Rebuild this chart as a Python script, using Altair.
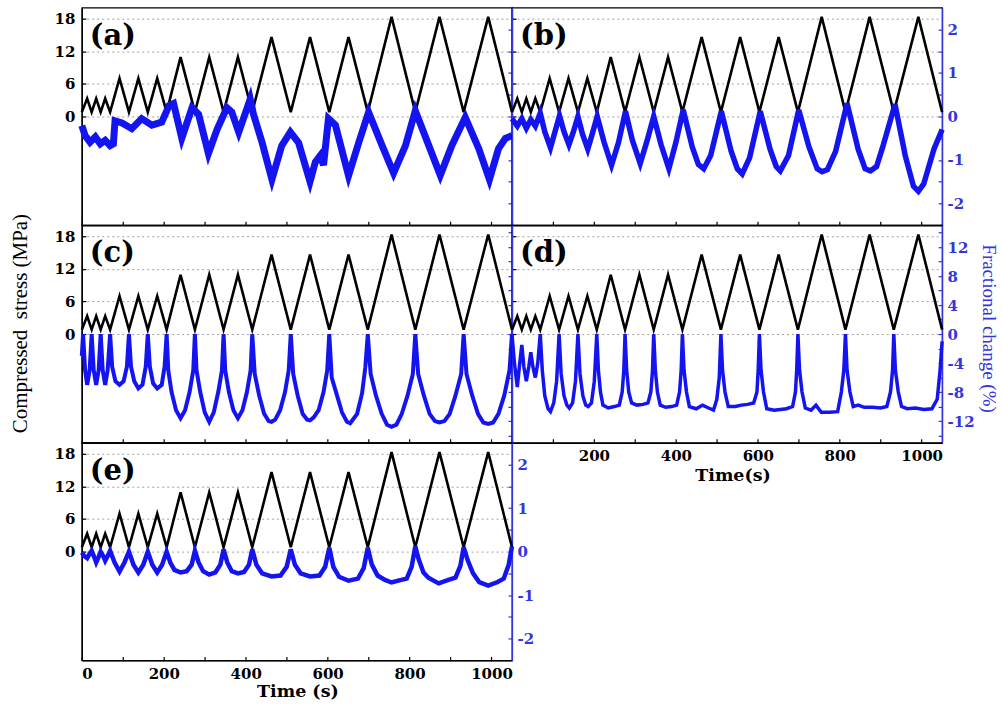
import altair as alt
import pandas as pd

# ---------------- data ----------------
stress_t = [0, 13, 24, 35, 46, 57, 69, 92, 115, 138, 161, 184, 207, 241, 276, 311,
            346, 381, 416, 463, 510, 557, 604, 651, 698, 756, 814, 873, 932, 992, 1050]
stress_v = [0.8, 3.3, 0.8, 3.3, 0.8, 3.3, 0.8, 7.0, 0.8, 7.0, 0.8, 7.0, 0.8, 10.9, 0.8, 10.9,
            0.8, 10.9, 0.8, 14.6, 0.8, 14.6, 0.8, 14.6, 0.8, 18.3, 0.8, 18.3, 0.8, 18.3, 0.8]

a_t = [0, 8, 20, 33, 45, 57, 69, 77, 81, 98, 122, 146, 171, 195, 213, 224, 244, 269, 285,
       309, 330, 354, 366, 383, 400, 411, 419, 440, 464, 488, 509, 529, 557, 570, 582, 590,
       602, 619, 651, 676, 700, 733, 761, 790, 814, 847, 875, 903, 936, 969, 995, 1017, 1034, 1050]
a_v = [-0.21, -0.44, -0.59, -0.47, -0.63, -0.55, -0.67, -0.63, -0.1, -0.15, -0.28, -0.05, -0.2,
       -0.13, 0.25, 0.3, -0.5, 0.2, 0.05, -0.85, -0.3, 0.2, 0.1, -0.36, 0.1, 0.4, 0.05, -0.6,
       -1.45, -0.67, -0.36, -0.6, -1.5, -1.05, -0.9, -1.12, -0.05, -0.2, -1.36, -0.6, 0.1,
       -0.67, -1.3, -0.67, 0.13, -0.67, -1.35, -0.67, -0.02, -0.74, -1.45, -0.74, -0.5, -0.44]

b_t = [0, 13, 24, 35, 46, 57, 69,
       80, 94, 105, 116, 127, 139, 150, 161, 172, 185, 196, 208,
       225, 243, 260, 277, 294, 313, 330, 346, 364, 383, 400, 418,
       440, 455, 468, 485, 511, 535, 550, 562, 580, 606, 630, 645, 655, 675, 700,
       725, 745, 757, 770, 790, 818, 845, 862, 875, 890, 905, 935, 960, 980, 992, 1005, 1030, 1050]
b_v = [-0.05, -0.22, -0.05, -0.27, -0.07, -0.22, 0.08,
       -0.35, -0.72, -0.35, 0.02, -0.35, -0.65, -0.35, 0.0, -0.4, -0.75, -0.4, 0.0,
       -0.6, -1.12, -0.6, 0.12, -0.55, -1.08, -0.55, 0.0, -0.65, -1.2, -0.6, 0.15,
       -0.7, -1.1, -1.2, -0.9, 0.12, -0.8, -1.2, -1.32, -0.95, 0.12, -0.75, -1.15, -1.25, -0.9, 0.15,
       -0.7, -1.2, -1.27, -1.22, -0.8, 0.3, -0.75, -1.2, -1.25, -1.15, -0.7, 0.28, -0.9, -1.6,
       -1.72, -1.55, -0.75, -0.3]

c_t = [0, 3, 8, 13, 19, 24, 29, 35, 41, 46, 51, 57, 63, 69,
       74, 82, 92, 102, 110, 115, 120, 128, 138, 148, 156, 161, 166, 174, 184, 195, 202, 207,
       211, 219, 230, 241, 252, 263, 272, 276, 280, 289, 300, 311, 322, 333, 342, 346,
       350, 359, 370, 381, 392, 403, 412, 416, 422, 433, 445, 456, 463, 472, 484, 496, 505, 510,
       516, 527, 539, 550, 557, 566, 578, 590, 599, 604, 610, 623, 635, 647, 655, 672, 684, 692, 698,
       705, 718, 732, 745, 756, 768, 781, 795, 808, 814, 821, 835, 849, 862, 873, 885, 898, 912, 926, 932,
       939, 953, 967, 980, 992, 1004, 1017, 1031, 1044, 1050]
c_v = [-3, 0, -5, -7, -5, 0, -5, -7, -5, 0, -5, -7, -5, 0,
       -4.5, -6.5, -7, -6.5, -4.5, 0, -4.5, -6.5, -7.5, -7, -4.5, 0, -4.5, -6.8, -7.5, -7, -4.5, 0,
       -5, -8, -10.5, -11.6, -10.5, -8, -5, 0, -5, -8, -10.8, -12.1, -10.8, -8, -5, 0,
       -5, -8, -10.5, -11.6, -10.5, -8, -5, 0, -5.5, -8.5, -11, -12, -12.1, -11.8, -10.5, -8, -5, 0,
       -5.5, -8.5, -11, -11.8, -11.9, -11.5, -10.5, -8, -5, 0, -6, -8.5, -10.8, -12.1, -12.3, -11, -8.2, -4.6, 0,
       -5.5, -8.5, -11, -12.5, -12.8, -12.5, -11, -8.5, -5.5, 0, -5.5, -8.5, -11, -12, -12.2, -12, -11, -8.5, -5.5, 0,
       -5.5, -8.5, -11, -12.2, -12.4, -12.2, -11, -8.5, -5, 0]

d_t = [0, 6, 13, 19, 24, 29, 35, 41, 46, 51, 57, 63, 69,
       74, 80, 88, 94, 102, 109, 115, 120, 127, 134, 140, 148, 155, 161,
       166, 173, 180, 186, 194, 201, 207,
       211, 216, 222, 235, 250, 262, 269, 273, 276, 280, 285, 292, 305, 320, 332, 339, 343, 346,
       350, 355, 362, 375, 390, 402, 409, 413, 416, 420, 426, 433, 450, 465, 480, 492, 500, 506, 510,
       514, 520, 528, 545, 560, 575, 590, 598, 601, 604, 608, 614, 622, 640, 655, 670, 685, 692, 695, 698,
       702, 708, 716, 730, 742, 755, 775, 795, 804, 810, 814, 818, 825, 833, 845, 860, 880, 900, 915, 924, 929, 932,
       936, 943, 951, 965, 985, 1005, 1025, 1038, 1045, 1050]
d_v = [0, -4, -7.3, -4, -1.5, -4.5, -6.5, -4.5, -2.5, -4.5, -6, -4, 0,
       -5, -8.5, -10.3, -10.7, -9.5, -6.5, 0, -5.5, -8.5, -9.8, -10.2, -9.5, -6.5, 0,
       -5.5, -8.5, -9.8, -10, -9.5, -6.5, 0,
       -5, -8, -9.8, -10.2, -10, -9.8, -8, -5, 0, -5, -8, -9.5, -9.8, -9.7, -9.5, -8, -5, 0,
       -5, -8, -9.8, -10.1, -10, -9.8, -8, -5, 0, -5, -8, -10, -10.3, -9.8, -10.2, -10.5, -9, -6, 0,
       -5, -8, -10, -10, -9.8, -9.7, -9.5, -8, -5, 0, -5, -8, -10.3, -10.5, -10.4, -10.3, -10, -8, -5, 0,
       -5, -8, -10.2, -10.5, -9.8, -10.8, -10.8, -10.7, -8, -5, 0, -5, -8, -10, -9.8, -10.1, -10.1, -10.2, -10, -8, -5, 0,
       -5, -8, -10, -10.3, -10.2, -10.4, -10.3, -9, -5, -1]

e_t = [0, 6, 13, 19, 24, 30, 35, 41, 46, 52, 57, 63, 69,
       80, 92, 104, 115, 126, 138, 150, 161, 172, 184, 196, 207,
       216, 226, 241, 256, 268, 276, 285, 296, 311, 326, 338, 346,
       355, 366, 381, 396, 408, 416, 426, 440, 463, 485, 500, 510,
       520, 534, 557, 580, 594, 604, 614, 628, 651, 674, 688, 698,
       708, 722, 740, 756, 775, 793, 805, 814, 822, 834, 846, 871, 895, 912, 924, 932,
       942, 955, 970, 992, 1015, 1030, 1042, 1050]
e_v = [-0.02, -0.1, -0.15, -0.05, 0.02, -0.12, -0.25, -0.12, 0.0, -0.1, -0.21, -0.1, 0.02,
       -0.25, -0.46, -0.25, 0.0, -0.3, -0.48, -0.3, 0.0, -0.3, -0.48, -0.3, 0.0,
       -0.25, -0.42, -0.48, -0.45, -0.3, 0.02, -0.25, -0.45, -0.53, -0.48, -0.3, 0.05,
       -0.25, -0.45, -0.5, -0.47, -0.3, 0.05, -0.3, -0.5, -0.57, -0.55, -0.35, 0.05,
       -0.3, -0.5, -0.57, -0.55, -0.35, 0.09, -0.35, -0.58, -0.67, -0.62, -0.38, 0.09,
       -0.3, -0.55, -0.65, -0.71, -0.66, -0.62, -0.35, 0.12, -0.17, -0.48, -0.6, -0.73, -0.65, -0.6, -0.33, 0.1,
       -0.2, -0.5, -0.7, -0.78, -0.7, -0.62, -0.3, 0.12]

x_ticks = [0, 100, 200, 300, 400, 500, 600, 700, 800, 900, 1000]
left_ticks = [0, 6, 12, 18]
small_ticks = [-2, -1.5, -1, -0.5, 0, 0.5, 1, 1.5, 2]
big_ticks = [-14, -12, -10, -8, -6, -4, -2, 0, 2, 4, 6, 8, 10, 12, 14]

# ---------------- styling ----------------
BLUE_DATA = "#1414f0"
BLUE_AX = "#3535dd"
SERIF = "Liberation Serif"
WIDE = "DejaVu Serif"
W, H = 431, 218
TICK_IN = {"expr": "-4"}
LAB = dict(labelFont=WIDE, labelFontSize=15, labelFontWeight="bold")


def panel(label, bt, bv, rdom, rvals, rmod, lw,
          left_labels=False, right_labels=False, x_mode=None,
          x_title=None, x_title_x=0, x_title_y=0,
          left_title=None, right_title=None, left_domain_blue=False):
    sdf = pd.DataFrame({"t": stress_t, "s": stress_v})
    bdf = pd.DataFrame({"t": bt, "f": bv})

    if x_mode == "all":
        lexpr = "datum.value % 200 === 0 ? '' + datum.value : ''"
    elif x_mode == "nozero":
        lexpr = "datum.value % 200 === 0 && datum.value > 0 ? '' + datum.value : ''"
    else:
        lexpr = "''"
    xkw = dict(values=x_ticks, labelExpr=lexpr, labels=x_mode is not None,
               tickSize=TICK_IN, tickColor="black", domainColor="black",
               labelPadding=10, labelColor="black", grid=False, **LAB)
    if x_title:
        xkw.update(title=x_title, titleFont=WIDE, titleFontSize=17.5, titleFontWeight="bold",
                   titleX=x_title_x, titleY=x_title_y, titleBaseline="top", titleAlign="center")
    else:
        xkw.update(title=None)
    x_enc = alt.X("t:Q", scale=alt.Scale(domain=[0, 1050], nice=False, zero=False),
                  axis=alt.Axis(**xkw))

    lkw = dict(orient="left", values=left_ticks, labels=left_labels, tickSize=TICK_IN,
               tickColor="black", domainColor=BLUE_AX if left_domain_blue else "black",
               labelPadding=11, labelColor="black",
               grid=True, gridDash=[2, 3], gridColor="#a0a0a0", gridWidth=1, **LAB)
    if left_title:
        lkw.update(title=left_title, titleFont=SERIF, titleFontSize=21, titleFontWeight="normal",
                   titleX=-61, titleY=98, titleAngle=270, titleBaseline="middle",
                   titleAlign="center", titleColor="black")
    else:
        lkw.update(title=None)

    rkw = dict(orient="right", values=rvals, labels=right_labels,
               labelExpr="datum.value %% %d === 0 ? '' + datum.value : ''" % rmod,
               tickSize=TICK_IN, tickColor=BLUE_AX, domainColor=BLUE_AX,
               labelPadding=9, labelColor=BLUE_AX, grid=False, **LAB)
    if right_title:
        rkw.update(title=right_title, titleFont=SERIF, titleFontSize=19, titleFontWeight="normal",
                   titleX=46, titleY=103, titleAngle=90, titleBaseline="middle",
                   titleAlign="center", titleColor=BLUE_AX)
    else:
        rkw.update(title=None)

    black = alt.Chart(sdf).mark_line(color="black", strokeWidth=2.6, strokeJoin="miter").encode(
        x=x_enc,
        y=alt.Y("s:Q", scale=alt.Scale(domain=[-20, 20], nice=False, zero=False),
                axis=alt.Axis(**lkw)),
    )
    blue = alt.Chart(bdf).mark_line(color=BLUE_DATA, strokeWidth=lw).encode(
        x=x_enc,
        y=alt.Y("f:Q", scale=alt.Scale(domain=rdom, nice=False, zero=False),
                axis=alt.Axis(**rkw)),
    )
    txt = alt.Chart(pd.DataFrame({"lab": [label]})).mark_text(
        font=WIDE, fontSize=29, fontWeight="bold", align="left", baseline="middle",
        color="black",
    ).encode(text="lab:N", x=alt.value(8), y=alt.value(28))

    return alt.layer(black, blue, txt).resolve_scale(y="independent").properties(
        width=W, height=H)


pa = panel("(a)", a_t, a_v, [-2.5, 2.5], small_ticks, 1, 7, left_labels=True)
pb = panel("(b)", b_t, b_v, [-2.5, 2.5], small_ticks, 1, 5.5, right_labels=True,
           left_domain_blue=True)
pc = panel("(c)", c_t, c_v, [-15, 15], big_ticks, 4, 4, left_labels=True,
           left_title="Compressed\u00a0 stress (MPa)")
pd_ = panel("(d)", d_t, d_v, [-15, 15], big_ticks, 4, 3.5, right_labels=True,
            x_mode="nozero", x_title="Time(s)", x_title_x=221, x_title_y=24,
            right_title="Fractional change (%)", left_domain_blue=True)
pe = panel("(e)", e_t, e_v, [-2.5, 2.5], small_ticks, 1, 4.5, left_labels=True,
           right_labels=True, x_mode="all", x_title="Time (s)", x_title_x=216, x_title_y=22)

chart = alt.concat(pa, pb, pc, pd_, pe, columns=2, spacing=0, bounds="flush").properties(
    autosize=alt.AutoSizeParams(type="pad"),
    padding={"left": 9, "top": 6, "right": 4, "bottom": 4},
    background="white",
).configure_view(stroke="black", strokeWidth=1.3).configure_axis(
    domainWidth=1.3, tickWidth=1.2,
)

chart.save("out.html", embed_options={"renderer": "svg", "actions": False})
